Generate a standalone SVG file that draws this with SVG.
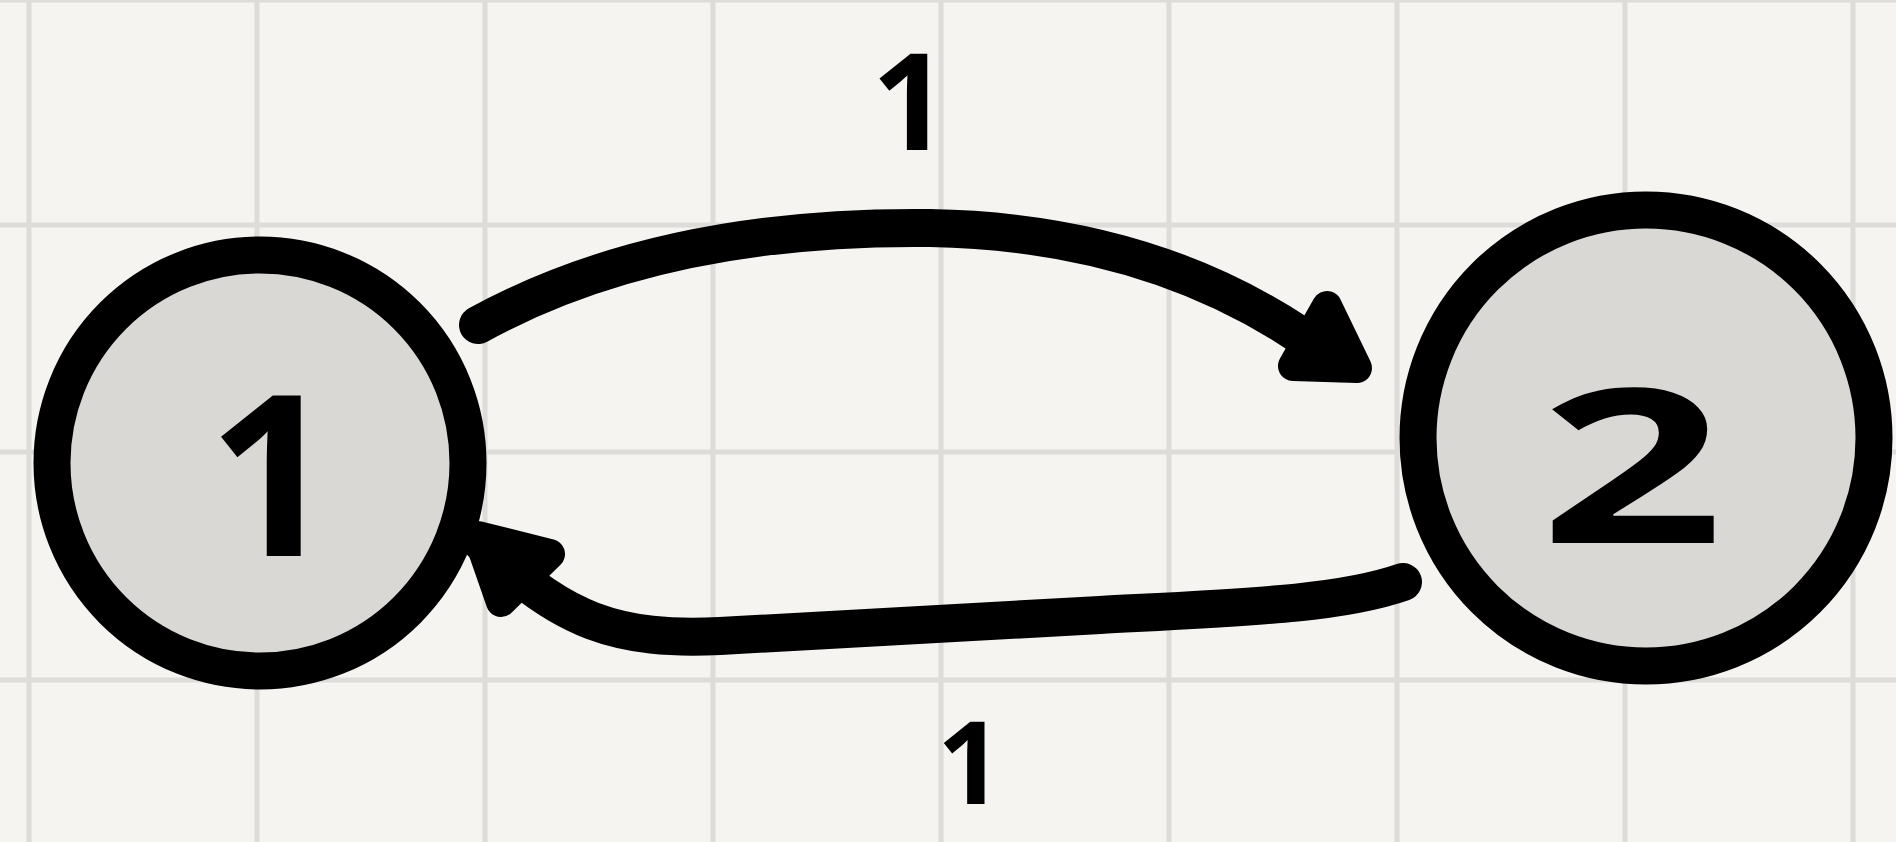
<svg xmlns="http://www.w3.org/2000/svg" width="1896" height="842" viewBox="0 0 1896 842">
<style>
.grid line{stroke:#dddcd9;stroke-width:5}
.node circle{fill:#d9d8d5;stroke:#000;stroke-width:37}
.lbl{font-family:"Open Sans",Roboto,"Liberation Sans",sans-serif;font-weight:bold;fill:#000;text-anchor:middle}
.edge{fill:none;stroke:#000;stroke-width:38;stroke-linecap:round;stroke-linejoin:round}
.head{fill:#000;stroke:#000;stroke-width:30;stroke-linejoin:round}
</style>
<rect width="1896" height="842" fill="#f5f4f1"/>
<g class="grid">
<line x1="29" y1="0" x2="29" y2="842"/><line x1="257" y1="0" x2="257" y2="842"/><line x1="485" y1="0" x2="485" y2="842"/><line x1="713" y1="0" x2="713" y2="842"/><line x1="941" y1="0" x2="941" y2="842"/><line x1="1169" y1="0" x2="1169" y2="842"/><line x1="1397" y1="0" x2="1397" y2="842"/><line x1="1625" y1="0" x2="1625" y2="842"/><line x1="1853" y1="0" x2="1853" y2="842"/>
<line x1="0" y1="0" x2="1896" y2="0"/><line x1="0" y1="225" x2="1896" y2="225"/><line x1="0" y1="452" x2="1896" y2="452"/><line x1="0" y1="680" x2="1896" y2="680"/>
</g>
<g id="connectors">
<g id="edge-1-2">
<path class="edge" d="M478 325 C600 258 750 226 930 228 C1100 231 1230 280 1332 358"/>
<polygon class="head" points="1357,368 1327,306 1293,366"/>
<text class="lbl" font-size="135" x="910" y="150">1</text>
</g>
<g id="edge-2-1">
<path class="edge" d="M1403 582 C1340 604 1250 607 1100 615 L720 636 C620 641 560 622 482 543"/>
<polygon class="head" points="478,536 550,554 501,602"/>
<text class="lbl" font-size="115" x="970" y="804">1</text>
</g>
</g>
<g id="node-1" class="node">
<circle cx="260" cy="463" r="208"/>
<text class="lbl" font-size="225" x="272" y="556">1</text>
</g>
<g id="node-2" class="node">
<circle cx="1646" cy="438" r="228"/>
<text class="lbl" font-size="215" transform="translate(1632,543) scale(1.5,1)">2</text>
</g>
</svg>
